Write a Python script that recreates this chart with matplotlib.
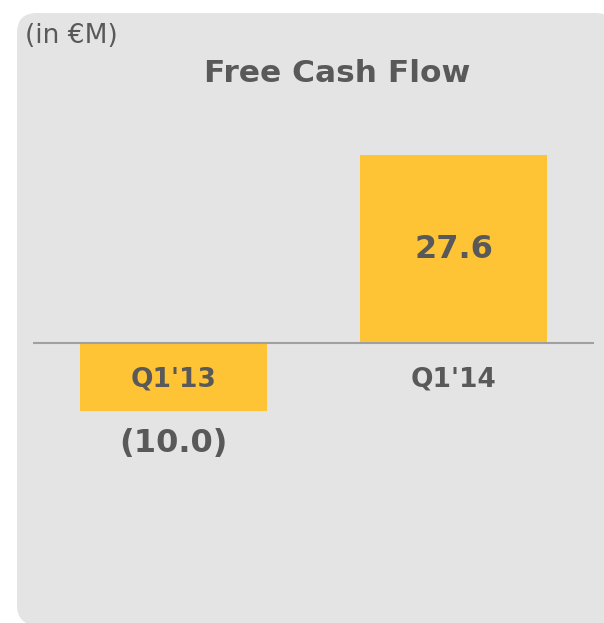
import matplotlib.pyplot as plt
from matplotlib.patches import FancyBboxPatch

# Data
categories = ["Q1'13", "Q1'14"]
values = [-10.0, 27.6]
value_labels = ["(10.0)", "27.6"]

bar_color = "#FFC435"
text_color = "#595959"
panel_color = "#E4E4E4"

W, H = 604, 623
fig = plt.figure(figsize=(W / 100, H / 100), dpi=100)
fig.patch.set_facecolor("white")

# background panel in pixel coordinates
bg = fig.add_axes([0, 0, 1, 1])
bg.set_xlim(0, W)
bg.set_ylim(H, 0)
bg.axis("off")
bg.add_patch(FancyBboxPatch((17, 13), 598, 612,
                            boxstyle="round,pad=0,rounding_size=20",
                            facecolor=panel_color, edgecolor="none"))
bg.text(25, 36, "(in €M)", fontsize=19, color=text_color,
        ha="left", va="center")
bg.text(337, 73, "Free Cash Flow", fontsize=22.5, fontweight="bold",
        color=text_color, ha="center", va="center")

# bar axes: x from px 33 to 594, y from px 100 to 600, baseline at px 343
scale = 188 / 27.6
ax = fig.add_axes([33 / W, 1 - 600 / H, 561 / W, 500 / H])
ax.set_facecolor("none")
ax.set_xlim(-0.502, 1.502)
ax.set_ylim(-(600 - 343) / scale, (343 - 100) / scale)
ax.axis("off")

x = range(len(categories))
ax.bar(x, values, width=0.668, color=bar_color, zorder=2)
ax.axhline(0, color="#A0A0A0", linewidth=1.5, zorder=3)

for i, (cat, v, lab) in enumerate(zip(categories, values, value_labels)):
    ax.text(i, -5.3, cat, fontsize=19, fontweight="bold", color=text_color,
            ha="center", va="center", zorder=4)
    if v >= 0:
        ax.text(i, v / 2, lab, fontsize=23, fontweight="bold",
                color=text_color, ha="center", va="center", zorder=4)
    else:
        ax.text(i, v - 4.7, lab, fontsize=23, fontweight="bold",
                color=text_color, ha="center", va="center", zorder=4)

fig.savefig("out.png", dpi=100)
